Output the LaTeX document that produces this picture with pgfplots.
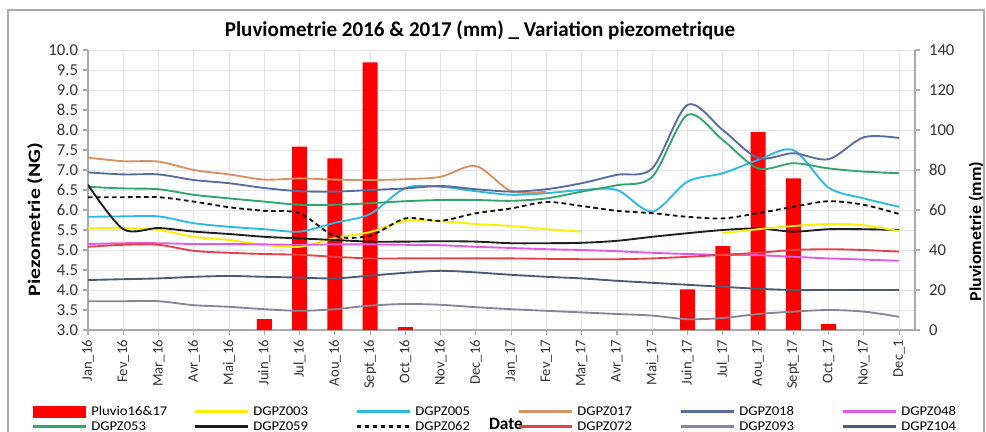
\documentclass[border=0pt]{standalone}
\usepackage{fontspec}
\setmainfont{Carlito}
\newfontfamily\wide{Carlito}[FakeStretch=1.1]
\newfontfamily\widel{Carlito}[FakeStretch=1.25]
\newfontfamily\wider{Carlito}[FakeStretch=1.07]
\usepackage{pgfplots}
\pgfplotsset{compat=1.18}
\definecolor{c003}{RGB}{255,238,0}
\definecolor{c005}{RGB}{45,185,228}
\definecolor{c017}{RGB}{214,146,98}
\definecolor{c018}{RGB}{88,108,160}
\definecolor{c048}{RGB}{228,88,228}
\definecolor{c053}{RGB}{48,165,112}
\definecolor{c059}{RGB}{30,30,30}
\definecolor{c062}{RGB}{20,20,20}
\definecolor{c072}{RGB}{230,64,72}
\definecolor{c093}{RGB}{138,132,152}
\definecolor{c104}{RGB}{76,90,116}
\definecolor{axgray}{RGB}{170,170,170}
\definecolor{grd}{RGB}{228,228,232}
\begin{document}
\begin{tikzpicture}
\begin{axis}[
  scale only axis, width=620.25pt, height=210pt,
  at={(66pt,-247.5pt)}, anchor=south west,
  xmin=0, xmax=23.45, ymin=0, ymax=140,
  axis x line*=bottom, axis y line*=right,
  axis line style={draw=axgray, line width=0.8pt},
  xtick={0,...,23},
  xticklabels={Jan\_16,Fev\_16,Mar\_16,Avr\_16,Mai\_16,Juin\_16,Jul\_16,Aou\_16,Sept\_16,Oct\_16,Nov\_16,Dec\_16,Jan\_17,Fev\_17,Mar\_17,Avr\_17,Mai\_17,Juin\_17,Jul\_17,Aou\_17,Sept\_17,Oct\_17,Nov\_17,Dec\_1},
  x tick label style={rotate=90, anchor=east, font=\fontsize{11}{13}\selectfont, color=black!80},
  ytick={0,20,40,60,80,100,120,140},
  minor ytick={10,30,50,70,90,110,130},
  y tick label style={font=\fontsize{12.5}{14}\selectfont, color=black!80, xshift=3pt},
  /pgf/number format/assume math mode=true,
  tick align=outside, major tick length=4pt, minor tick length=0pt,
  tick style={draw=axgray, line width=0.8pt},
  xmajorgrids, ymajorgrids, yminorgrids,
  major grid style={draw=grd, line width=0.6pt},
  minor grid style={draw=grd, line width=0.6pt},
  ybar, bar width=11.25pt,
  title={Pluviometrie 2016 \& 2017 (mm) \_ Variation piezometrique},
  every axis title/.style={at={(axis description cs:0.474,1.0714)}, anchor=center, font=\bfseries\fontsize{15.8}{18}\selectfont},
  xlabel={Date},
  every axis x label/.style={at={(axis description cs:0.5054,-0.3536)}, anchor=base, inner sep=0pt, font=\bfseries\fontsize{13}{15}\selectfont},
  ylabel={Pluviometrie (mm)},
  every axis y label/.style={at={(axis description cs:1.085,0.352)}, rotate=90, anchor=south, inner sep=1pt, font=\wider\bfseries\fontsize{12.5}{14}\selectfont},
]
\addplot[fill=red, draw=none] coordinates {(5,5.5) (6,91.7) (7,85.8) (8,133.8) (9,1.5) (17,20.3) (18,42) (19,99) (20,75.8) (21,3)};
\end{axis}
\begin{axis}[
  scale only axis, width=620.25pt, height=210pt,
  at={(66pt,-247.5pt)}, anchor=south west,
  xmin=0, xmax=23.45, ymin=3, ymax=10,
  hide x axis,
  axis y line*=left,
  axis line style={draw=axgray, line width=0.8pt},
  ytick={3.0,3.5,4.0,4.5,5.0,5.5,6.0,6.5,7.0,7.5,8.0,8.5,9.0,9.5,10.0},
  yticklabel style={/pgf/number format/fixed, /pgf/number format/fixed zerofill, /pgf/number format/precision=1, /pgf/number format/assume math mode=true},
  y tick label style={font=\fontsize{12.5}{14}\selectfont, color=black!80},
  tick align=outside, major tick length=4pt,
  tick style={draw=axgray, line width=0.8pt},
  ylabel={Piezometrie (NG)},
  every axis y label/.style={at={(axis description cs:-0.0641,0.395)}, rotate=90, anchor=center, font=\widel\bfseries\fontsize{13}{15}\selectfont},
  every axis plot/.append style={smooth, line width=1.4pt},
  legend columns=6,
  legend cell align=left,
  legend style={at={(axis description cs:-0.0689,-0.2688)}, anchor=north west, draw=none, fill=none, inner sep=0pt, /tikz/column sep=0pt, /tikz/row sep=2.25pt, nodes={inner xsep=3pt, inner ysep=1pt, text height=6.5pt, text depth=0.5pt}, font=\wide\fontsize{10}{11}\selectfont},
  legend image code/.code={\draw[#1] (0pt,0pt) -- (40pt,0pt);},
  legend image post style={line width=2pt},
]
\addlegendimage{legend image code/.code={\draw[red, line width=9pt, overlay] (0pt,0pt) -- (40pt,0pt);}}
\addlegendentry{\makebox[73.5pt][l]{Pluvio16\&17}}
% DGPZ003
\addplot[c003] coordinates {(0,5.54) (1,5.55) (2,5.5) (3,5.33) (4,5.25) (5,5.13) (6,5.08) (7,5.3) (8,5.45) (9,5.73) (10,5.72) (11,5.65) (12,5.6) (13,5.52) (14,5.46)};
\addlegendentry{\makebox[73.5pt][l]{DGPZ003}}
% DGPZ005
\addplot[c005] coordinates {(0,5.83) (1,5.84) (2,5.84) (3,5.67) (4,5.58) (5,5.52) (6,5.46) (7,5.68) (8,5.9) (9,6.55) (10,6.58) (11,6.47) (12,6.38) (13,6.42) (14,6.5) (15,6.5) (16,5.96) (17,6.71) (18,6.92) (19,7.25) (20,7.5) (21,6.56) (22,6.29) (23,6.08)};
\addlegendentry{\makebox[73.5pt][l]{DGPZ005}}
% DGPZ017
\addplot[c017] coordinates {(0,7.31) (1,7.22) (2,7.21) (3,7.0) (4,6.89) (5,6.76) (6,6.79) (7,6.76) (8,6.75) (9,6.77) (10,6.83) (11,7.1) (12,6.47) (13,6.46)};
\addlegendentry{\makebox[73.5pt][l]{DGPZ017}}
% DGPZ018
\addplot[c018] coordinates {(0,6.94) (1,6.89) (2,6.89) (3,6.75) (4,6.67) (5,6.55) (6,6.47) (7,6.46) (8,6.5) (9,6.54) (10,6.6) (11,6.52) (12,6.46) (13,6.52) (14,6.67) (15,6.88) (16,7.04) (17,8.63) (18,8.0) (19,7.3) (20,7.42) (21,7.27) (22,7.82) (23,7.8)};
\addlegendentry{\makebox[73.5pt][l]{DGPZ018}}
% DGPZ048
\addplot[c048] coordinates {(0,5.15) (1,5.17) (2,5.17) (3,5.15) (4,5.15) (5,5.14) (6,5.13) (7,5.14) (8,5.14) (9,5.13) (10,5.12) (11,5.08) (12,5.05) (13,5.02) (14,5.0) (15,4.97) (16,4.93) (17,4.9) (18,4.88) (19,4.87) (20,4.83) (21,4.79) (22,4.76) (23,4.73)};
\addlegendentry{\makebox[73.5pt][l]{DGPZ048}}
% DGPZ053
\addplot[c053] coordinates {(0,6.58) (1,6.54) (2,6.52) (3,6.38) (4,6.29) (5,6.21) (6,6.13) (7,6.13) (8,6.17) (9,6.22) (10,6.25) (11,6.25) (12,6.23) (13,6.29) (14,6.46) (15,6.62) (16,6.83) (17,8.38) (18,7.75) (19,7.04) (20,7.17) (21,7.04) (22,6.96) (23,6.92)};
\addlegendentry{\makebox[73.5pt][l]{DGPZ053}}
% DGPZ059
\addplot[c059] coordinates {(0,6.63) (1,5.52) (2,5.55) (3,5.46) (4,5.4) (5,5.33) (6,5.29) (7,5.25) (8,5.21) (9,5.21) (10,5.22) (11,5.21) (12,5.17) (13,5.17) (14,5.18) (15,5.23) (16,5.33) (17,5.42) (18,5.5) (19,5.54) (20,5.46) (21,5.52) (22,5.52) (23,5.5)};
\addlegendentry{\makebox[73.5pt][l]{DGPZ059}}
% DGPZ062
\addplot[c062, dash pattern=on 3.5pt off 2.5pt] coordinates {(0,6.32) (1,6.32) (2,6.32) (3,6.21) (4,6.07) (5,5.98) (6,5.92) (7,5.35) (8,5.36) (9,5.79) (10,5.73) (11,5.92) (12,6.04) (13,6.2) (14,6.1) (15,5.98) (16,5.92) (17,5.83) (18,5.79) (19,5.92) (20,6.08) (21,6.22) (22,6.13) (23,5.9)};
\addlegendentry{\makebox[73.5pt][l]{DGPZ062}}
% DGPZ072
\addplot[c072] coordinates {(0,5.08) (1,5.13) (2,5.13) (3,4.98) (4,4.93) (5,4.9) (6,4.88) (7,4.83) (8,4.79) (9,4.79) (10,4.79) (11,4.79) (12,4.79) (13,4.78) (14,4.77) (15,4.77) (16,4.79) (17,4.83) (18,4.88) (19,4.93) (20,5.0) (21,5.02) (22,5.0) (23,4.96)};
\addlegendentry{\makebox[73.5pt][l]{DGPZ072}}
% DGPZ093
\addplot[c093] coordinates {(0,3.72) (1,3.72) (2,3.72) (3,3.62) (4,3.58) (5,3.52) (6,3.48) (7,3.52) (8,3.61) (9,3.65) (10,3.63) (11,3.57) (12,3.52) (13,3.48) (14,3.44) (15,3.4) (16,3.36) (17,3.27) (18,3.3) (19,3.4) (20,3.46) (21,3.5) (22,3.46) (23,3.33)};
\addlegendentry{\makebox[73.5pt][l]{DGPZ093}}
% DGPZ104
\addplot[c104] coordinates {(0,4.25) (1,4.27) (2,4.29) (3,4.33) (4,4.35) (5,4.33) (6,4.31) (7,4.29) (8,4.36) (9,4.43) (10,4.48) (11,4.44) (12,4.38) (13,4.33) (14,4.29) (15,4.23) (16,4.18) (17,4.13) (18,4.08) (19,4.03) (20,4.0) (21,4.0) (22,4.0) (23,4.0)};
\addlegendentry{\makebox[73.5pt][l]{DGPZ104}}
% DGPZ003 second part
\addplot[c003, forget plot] coordinates {(18,5.42) (19,5.52) (20,5.6) (21,5.65) (22,5.62) (23,5.47)};
\end{axis}
\draw[axgray, line width=0.8pt] (6pt,-7.5pt) rectangle (738pt,-340pt);
\pgfresetboundingbox
\path[use as bounding box] (0pt,0pt) rectangle (739.5pt,-324pt);
\end{tikzpicture}
\end{document}
